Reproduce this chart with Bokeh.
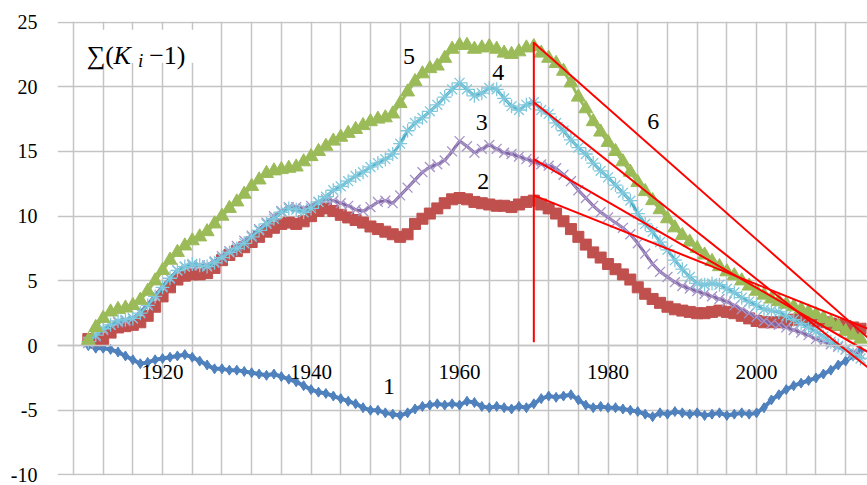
from bokeh.plotting import figure
from bokeh.models import SingleIntervalTicker, Label, Range1d, BoxAnnotation
from bokeh.embed import file_html
from bokeh.resources import INLINE

years = list(range(1910, 2015))

s1 = [0.0, -0.2, -0.2, -0.3, -0.5, -0.8, -1.1, -1.4, -1.3, -1.1,
      -1.0, -0.9, -0.8, -0.7, -0.9, -1.2, -1.5, -1.8, -1.8, -1.9,
      -1.9, -2.0, -2.1, -2.2, -2.3, -2.2, -2.4, -2.6, -2.8, -3.1,
      -3.4, -3.6, -3.7, -3.9, -4.1, -4.3, -4.5, -4.8, -5.0, -5.0,
      -5.2, -5.3, -5.4, -5.2, -4.9, -4.7, -4.6, -4.5, -4.6, -4.5,
      -4.6, -4.3, -4.4, -4.7, -4.8, -4.7, -4.8, -4.9, -4.7, -4.8,
      -4.5, -4.1, -3.9, -4.0, -3.9, -3.8, -4.2, -4.6, -4.8, -4.7,
      -4.8, -4.8, -4.9, -5.0, -5.1, -5.3, -5.5, -5.2, -5.3, -5.1,
      -5.2, -5.3, -5.2, -5.4, -5.3, -5.2, -5.4, -5.3, -5.2, -5.3,
      -5.2, -4.8, -4.2, -3.8, -3.4, -3.1, -2.9, -2.7, -2.5, -2.2,
      -1.9, -1.5, -1.2, -0.8, -0.4]

s2 = [0.5, 0.4, 0.5, 1.0, 1.4, 1.5, 1.6, 1.8, 2.3, 3.0,
      3.8, 4.5, 5.1, 5.4, 5.5, 5.5, 5.6, 6.0, 6.6, 7.0,
      7.3, 7.6, 8.0, 8.4, 8.8, 9.1, 9.4, 9.5, 9.4, 9.6,
      10.0, 10.4, 10.6, 10.4, 10.1, 9.9, 9.7, 9.5, 9.2, 9.0,
      8.8, 8.6, 8.4, 8.6, 9.4, 9.8, 10.2, 10.6, 11.0, 11.3,
      11.4, 11.3, 11.1, 11.0, 10.9, 10.8, 10.8, 10.7, 10.9, 11.1,
      11.2, 10.9, 10.6, 10.2, 9.6, 9.0, 8.4, 7.8, 7.2, 6.8,
      6.3, 5.9, 5.5, 5.1, 4.5, 4.0, 3.6, 3.3, 3.0, 2.8,
      2.7, 2.6, 2.5, 2.5, 2.6, 2.7, 2.6, 2.5, 2.3, 2.1,
      1.9, 1.8, 1.8, 1.8, 1.9, 2.0, 2.1, 2.0, 1.9, 1.8,
      1.7, 1.6, 1.5, 1.4, 1.3]

s3 = [0.2, 0.7, 1.2, 1.6, 1.8, 1.9, 2.1, 2.6, 3.2, 3.9,
      4.6, 5.2, 5.8, 6.1, 6.2, 6.2, 6.2, 6.5, 6.9, 7.3,
      7.7, 8.1, 8.5, 9.0, 9.5, 10.0, 10.4, 10.7, 10.7, 10.6,
      10.8, 11.1, 11.3, 11.2, 11.0, 10.8, 10.5, 10.4, 10.7, 11.1,
      11.2, 11.0, 11.6, 12.2, 12.8, 13.4, 13.8, 14.0, 14.3, 15.0,
      15.8, 15.4, 14.9, 15.2, 15.5, 15.2, 14.9, 14.8, 14.6, 14.4,
      14.2, 14.0, 13.9, 13.7, 13.2, 12.7, 12.0, 11.4, 10.8, 10.3,
      9.9, 9.5, 9.1, 8.6, 7.9, 7.1, 6.3, 5.7, 5.3, 4.9,
      4.6, 4.4, 4.2, 4.0, 3.8, 3.6, 3.4, 3.1, 2.8, 2.5,
      2.2, 1.9, 1.7, 1.6, 1.4, 1.2, 1.0, 0.8, 0.5, 0.3,
      0.1, -0.1, -0.3, -0.5, -0.7]

s4 = [0.3, 0.8, 1.3, 1.6, 1.9, 2.0, 2.1, 2.5, 3.1, 3.8,
      4.5, 5.2, 5.8, 6.1, 6.3, 6.2, 6.1, 6.4, 6.8, 7.2,
      7.5, 7.9, 8.4, 8.9, 9.4, 9.8, 10.3, 10.6, 10.5, 10.3,
      10.6, 11.1, 11.5, 12.0, 12.3, 12.7, 13.1, 13.4, 13.8, 14.1,
      14.4, 14.8, 15.6, 16.6, 17.2, 17.6, 18.1, 18.6, 19.2, 19.8,
      20.3, 19.8, 19.3, 19.5, 19.9, 19.8, 19.1, 18.5, 18.2, 18.6,
      18.8, 18.2, 17.9, 17.2, 16.6, 15.9, 15.3, 14.8, 14.1, 13.5,
      13.0, 12.4, 11.8, 11.2, 10.2, 9.4, 8.8, 8.0, 7.4, 6.6,
      5.9, 5.3, 4.8, 4.7, 4.8, 4.7, 4.4, 4.1, 3.7, 3.4,
      3.1, 2.8, 2.7, 2.6, 2.3, 2.0, 1.7, 1.4, 1.1, 0.7,
      0.3, 0.0, -0.3, -0.7, -1.0]

s5 = [0.4, 1.4, 2.1, 2.6, 2.8, 2.9, 3.1, 3.5, 4.2, 5.0,
      5.8, 6.6, 7.2, 7.7, 8.1, 8.4, 8.8, 9.4, 10.0, 10.6,
      11.1, 11.7, 12.3, 12.8, 13.3, 13.5, 13.6, 13.7, 13.8, 14.2,
      14.6, 15.0, 15.4, 15.8, 16.1, 16.4, 16.7, 17.0, 17.3, 17.5,
      17.6, 17.9, 18.7, 19.6, 20.4, 21.0, 21.4, 21.6, 22.2, 22.9,
      23.2, 23.2, 22.9, 23.0, 23.1, 22.9, 22.6, 22.5, 22.7, 23.0,
      23.1, 22.6, 22.2, 21.8, 21.2, 20.3, 19.2, 18.3, 17.3, 16.5,
      15.7, 15.0, 14.2, 13.4, 12.6, 11.9, 11.2, 10.5, 9.8, 9.1,
      8.5, 8.0, 7.5, 7.0, 6.5, 6.1, 5.7, 5.4, 5.0, 4.6,
      4.2, 3.9, 3.6, 3.4, 3.2, 3.0, 2.8, 2.6, 2.4, 2.1,
      1.8, 1.5, 1.1, 0.8, 0.5]

# trend lines (curve 6)
trend_x = [1970, 2015]
trend_start = [23.4, 18.8, 14.4, 11.6]
trend_end = [0.6, -1.7, -0.5, 1.3]
vline_x = [1970, 1970]
vline_y = [0.25, 23.45]

curve_labels = ["1", "2", "3", "4", "5", "6"]
label_x = [1950.5, 1963.2, 1963.0, 1965.2, 1953.2, 1986.1]
label_y = [-3.2, 12.65, 17.2, 21.1, 22.3, 17.3]

y_ticks_interval = 5
x_label_interval = 20
x_grid_interval = 4

SERIF = "Liberation Serif"
GRID = "#c4c4c4"

p = figure(width=867, height=485,
           x_range=Range1d(1905.85, 2014.94), y_range=Range1d(-10.04, 25.04),
           output_backend="svg", toolbar_location=None,
           min_border_left=57, min_border_right=0, min_border_top=21, min_border_bottom=10)
p.outline_line_color = None
p.background_fill_color = "white"

p.xaxis.fixed_location = 0
p.xaxis.ticker = SingleIntervalTicker(interval=x_label_interval)
p.xaxis.axis_line_color = GRID
p.xaxis.axis_line_width = 1.5
p.xaxis.major_tick_line_color = GRID
p.xaxis.major_tick_line_width = 1.5
p.xaxis.major_tick_out = 5
p.xaxis.major_tick_in = 0
p.xaxis.minor_tick_line_color = None
p.xaxis.major_label_standoff = 14
p.xaxis.major_label_text_font = SERIF
p.xaxis.major_label_text_font_size = "21px"
p.xaxis.major_label_text_color = "#000000"

p.yaxis.ticker = SingleIntervalTicker(interval=y_ticks_interval)
p.yaxis.axis_line_color = None
p.yaxis.major_tick_line_color = None
p.yaxis.minor_tick_line_color = None
p.yaxis.major_label_standoff = 14
p.yaxis.major_label_text_font = SERIF
p.yaxis.major_label_text_font_size = "20px"
p.yaxis.major_label_text_color = "#000000"
p.yaxis.major_label_overrides = {-5: "-5", -10: "-10"}

p.xgrid.ticker = SingleIntervalTicker(interval=x_grid_interval)
p.ygrid.ticker = SingleIntervalTicker(interval=y_ticks_interval)
for g in (p.xgrid, p.ygrid):
    g.grid_line_color = GRID
    g.grid_line_width = 1.5

# series 1 (blue diamonds)
p.line(years, s1, line_color="#4F81BD", line_width=4)
p.scatter(years, s1, marker="diamond", size=10, fill_color="#4F81BD", line_color="#4F81BD")
# series 2 (red squares)
p.line(years, s2, line_color="#C0504D", line_width=3)
p.scatter(years, s2, marker="square", size=11, fill_color="#C0504D", line_color="#C0504D")
# series 3 (purple x)
p.line(years, s3, line_color="#8064A2", line_width=3)
p.scatter(years, s3, marker="x", size=14, line_color="#A895C8", line_width=1.3)
# series 4 (aqua asterisk)
p.line(years, s4, line_color="#4BACC6", line_width=3)
p.scatter(years, s4, marker="asterisk", size=14, line_color="#80C8DC", line_width=1.3)
# series 5 (green triangles)
p.line(years, s5, line_color="#9BBB59", line_width=3)
p.scatter(years, s5, marker="triangle", size=14, fill_color="#9BBB59", line_color="#9BBB59")

# red lines (6)
for a, b in zip(trend_start, trend_end):
    p.line(trend_x, [a, b], line_color="#FF0000", line_width=2)
p.line(vline_x, vline_y, line_color="#FF0000", line_width=2)

for t, x, y in zip(curve_labels, label_x, label_y):
    p.add_layout(Label(x=x, y=y, text=t, text_font=SERIF, text_font_size="24px",
                       text_align="center", text_baseline="middle", text_color="#000000"))

# formula box
p.add_layout(BoxAnnotation(left=1909.6, right=1924.4, bottom=21.85, top=24.4,
                           fill_color="white", fill_alpha=1.0, line_color=None))
p.add_layout(Label(x=1909.8, y=22.39, text="\u2211(", text_font=SERIF, text_font_size="26px",
                   text_baseline="alphabetic", text_color="#000000"))
p.add_layout(Label(x=1913.4, y=22.39, text="K", text_font=SERIF, text_font_size="26px",
                   text_font_style="italic", text_baseline="alphabetic", text_color="#000000"))
p.add_layout(Label(x=1916.7, y=22.05, text="i", text_font=SERIF, text_font_size="19px",
                   text_font_style="italic", text_baseline="alphabetic", text_color="#000000"))
p.add_layout(Label(x=1918.2, y=22.39, text="\u22121)", text_font=SERIF, text_font_size="26px",
                   text_baseline="alphabetic", text_color="#000000"))

open("out.html", "w").write(file_html(p, INLINE))
